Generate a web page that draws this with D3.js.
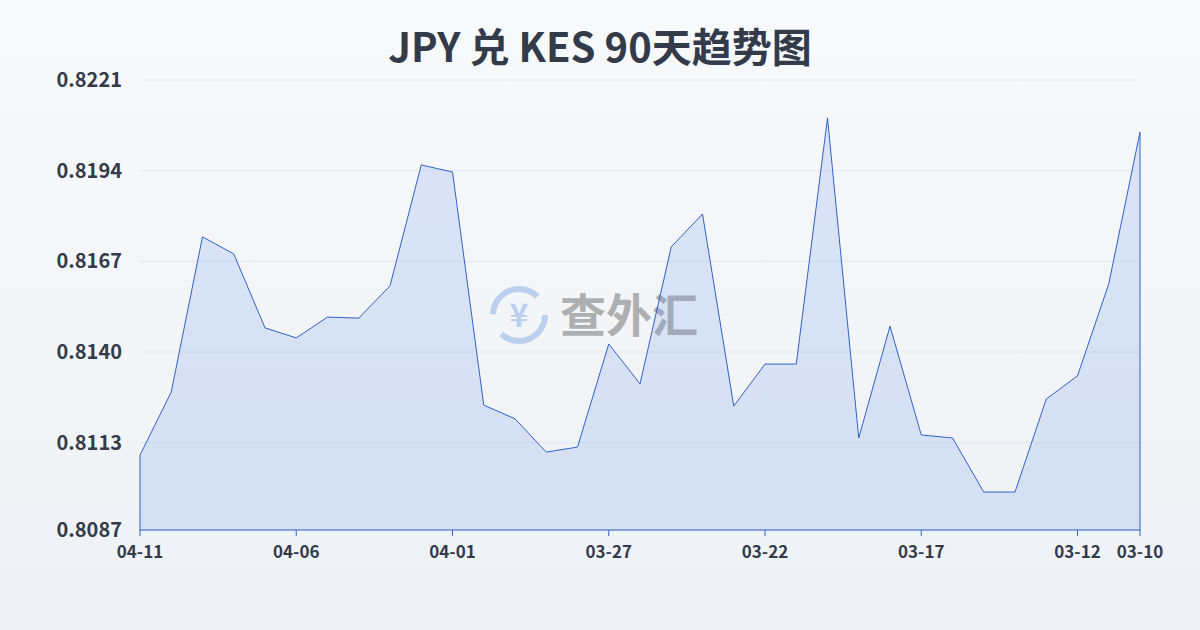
<!DOCTYPE html>
<html><head><meta charset="utf-8">
<script src="https://cdn.jsdelivr.net/npm/d3@7/dist/d3.min.js"></script>
<style>body{margin:0;}svg{display:block;}</style>
</head><body><svg id="c" width="1200" height="630"></svg>
<script>
const dates = ["04-11","04-10","04-09","04-08","04-07","04-06","04-05","04-04","04-03","04-02","04-01","03-31","03-30","03-29","03-28","03-27","03-26","03-25","03-24","03-23","03-22","03-21","03-20","03-19","03-18","03-17","03-16","03-15","03-14","03-13","03-12","03-11","03-10"];
const values = [0.81093,0.81281,0.81743,0.81692,0.81472,0.81442,0.81504,0.81501,0.81597,0.81957,0.81936,0.81242,0.81201,0.81102,0.81117,0.81424,0.81305,0.81713,0.81811,0.81239,0.81364,0.81364,0.82097,0.81144,0.81477,0.81153,0.81144,0.80983,0.80983,0.81260,0.81329,0.81603,0.82055];
const yTicks = [0.8087,0.8113,0.8140,0.8167,0.8194,0.8221];
const xLabels = ["04-11","04-06","04-01","03-27","03-22","03-17","03-12","03-10"];

const svg = d3.select("#c");
const defs = svg.append("defs");
const g = defs.append("linearGradient").attr("id","bg").attr("x1",0).attr("y1",0).attr("x2",0).attr("y2",1);
g.append("stop").attr("offset",0).attr("stop-color","#f8f9fb");
g.append("stop").attr("offset",1).attr("stop-color","#eef1f5");
svg.append("rect").attr("width",1200).attr("height",630).attr("fill","url(#bg)");

const x = d3.scaleLinear().domain([0,dates.length-1]).range([140,1140]);
const y = d3.scaleLinear().domain([0.8087,0.8221]).range([530,80]);
const font = "'Noto Sans CJK SC','Noto Sans',sans-serif";

svg.append("text").attr("x",600).attr("y",62).attr("text-anchor","middle")
  .attr("font-family",font).attr("font-weight","bold").attr("font-size",40).attr("fill","#333b4a")
  .text("JPY 兑 KES 90天趋势图");

svg.selectAll(".grid").data(yTicks).join("line")
  .attr("x1",140).attr("x2",1140).attr("y1",d=>y(d)).attr("y2",d=>y(d))
  .attr("stroke","#e3e6ea").attr("stroke-width",1);
svg.selectAll(".yl").data(yTicks).join("text")
  .attr("x",122).attr("y",d=>y(d)+7).attr("text-anchor","end")
  .attr("font-family",font).attr("font-weight","bold").attr("font-size",20).attr("fill","#333b4a")
  .text(d=>d.toFixed(4));

// watermark
const wm = svg.append("g").attr("opacity",0.55);
wm.append("circle").attr("cx",519).attr("cy",315).attr("r",26).attr("fill","none").attr("stroke","#8fb3e8").attr("stroke-width",6).attr("stroke-dasharray","60 22");
wm.append("text").attr("x",519).attr("y",327).attr("text-anchor","middle").attr("font-family",font).attr("font-weight","bold").attr("font-size",32).attr("fill","#8fb3e8").text("¥");
wm.append("text").attr("x",560).attr("y",332).attr("font-family",font).attr("font-weight","bold").attr("font-size",46).attr("fill","#777").text("查外汇");

const area = d3.area().x((d,i)=>x(i)).y0(530).y1(d=>y(d));
const line = d3.line().x((d,i)=>x(i)).y(d=>y(d));
svg.append("path").datum(values).attr("d",area).attr("fill","rgba(120,160,230,0.22)");
svg.append("path").datum(values).attr("d",line).attr("fill","none").attr("stroke","#2f62cc").attr("stroke-width",1);
svg.append("line").attr("x1",140).attr("x2",140).attr("y1",y(values[0])).attr("y2",530).attr("stroke","#2f62cc");
svg.append("line").attr("x1",1140).attr("x2",1140).attr("y1",y(values[values.length-1])).attr("y2",530).attr("stroke","#2f62cc");
svg.append("line").attr("x1",140).attr("x2",1140).attr("y1",530).attr("y2",530).attr("stroke","#2f62cc");

svg.selectAll(".xt").data(xLabels).join("line")
  .attr("x1",d=>x(dates.indexOf(d))).attr("x2",d=>x(dates.indexOf(d))).attr("y1",530).attr("y2",536).attr("stroke","#2f62cc");
svg.selectAll(".xl").data(xLabels).join("text")
  .attr("x",d=>x(dates.indexOf(d))).attr("y",558).attr("text-anchor","middle")
  .attr("font-family",font).attr("font-weight","bold").attr("font-size",17).attr("fill","#333b4a")
  .text(d=>d);
</script></body></html>
